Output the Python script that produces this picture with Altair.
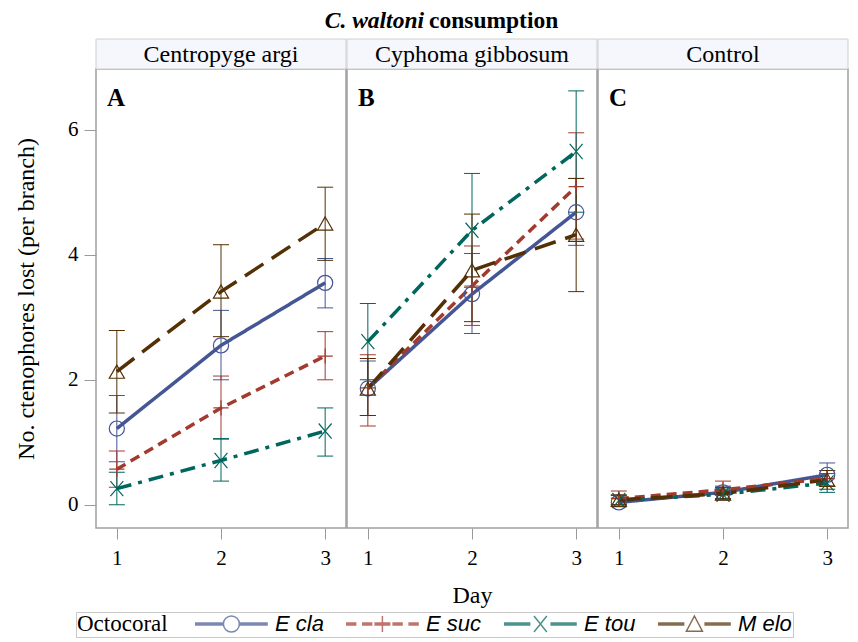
import altair as alt
import pandas as pd

panels = ["Centropyge argi", "Cyphoma gibbosum", "Control"]
letters = ["A", "B", "C"]
series = ["E cla", "E suc", "E tou", "M elo"]
days = [1, 2, 3]
colors = ["#445694", "#A23A2E", "#01665E", "#543005"]
dashes = [[1, 0], [10, 6], [15, 7, 4, 7], [22, 10]]

# means, lower and upper error-bar ends, per panel, per series (days 1..3)
mean_A = {"E cla": [1.22, 2.55, 3.55], "E suc": [0.57, 1.55, 2.38],
          "E tou": [0.26, 0.71, 1.18], "M elo": [2.13, 3.41, 4.50]}
lo_A = {"E cla": [0.69, 2.00, 3.15], "E suc": [0.28, 1.05, 2.00],
        "E tou": [0.00, 0.38, 0.78], "M elo": [1.47, 2.69, 3.91]}
hi_A = {"E cla": [1.75, 3.11, 3.94], "E suc": [0.86, 2.06, 2.77],
        "E tou": [0.52, 1.06, 1.55], "M elo": [2.79, 4.16, 5.08]}

mean_B = {"E cla": [1.86, 3.37, 4.68], "E suc": [1.87, 3.50, 5.09],
          "E tou": [2.61, 4.39, 5.65], "M elo": [1.86, 3.75, 4.32]}
lo_B = {"E cla": [1.43, 2.74, 4.15], "E suc": [1.26, 2.87, 4.25],
        "E tou": [2.00, 3.48, 4.68], "M elo": [1.43, 2.93, 3.41]}
hi_B = {"E cla": [2.30, 4.02, 5.22], "E suc": [2.40, 4.14, 5.95],
        "E tou": [3.22, 5.30, 6.62], "M elo": [2.34, 4.65, 5.22]}

mean_C = {"E cla": [0.04, 0.20, 0.48], "E suc": [0.10, 0.24, 0.42],
          "E tou": [0.07, 0.17, 0.35], "M elo": [0.08, 0.18, 0.40]}
lo_C = {"E cla": [-0.03, 0.10, 0.30], "E suc": [0.00, 0.10, 0.30],
        "E tou": [0.00, 0.08, 0.20], "M elo": [0.00, 0.10, 0.25]}
hi_C = {"E cla": [0.11, 0.30, 0.67], "E suc": [0.22, 0.38, 0.55],
        "E tou": [0.15, 0.27, 0.50], "M elo": [0.16, 0.28, 0.55]}

means = [mean_A, mean_B, mean_C]
los = [lo_A, lo_B, lo_C]
his = [hi_A, hi_B, hi_C]

W, H = 250, 459
SERIF = "Liberation Serif"


# legend symbols: thick line + marker, drawn in unit space (r = 8px)
def hseg(x0, x1):
    return "".join(f"M{x0},{y}L{x1},{y}" for y in (-0.11, 0, 0.11))


MX = 3.55
leg_paths = [
    hseg(-1, 2.55) + hseg(4.55, 8.1)
    + f"M{MX+1},0A1,1 0 1,1 {MX-1},0A1,1 0 1,1 {MX+1},0",
    hseg(-1, 0.3) + hseg(1.0, 2.3) + hseg(2.55, 4.55) + hseg(4.8, 6.1) + hseg(6.8, 8.1)
    + f"M{MX},-1L{MX},1",
    hseg(-1, 2.3) + hseg(4.8, 8.1)
    + f"M{MX-0.8},-1L{MX+0.8},1M{MX-0.8},1L{MX+0.8},-1",
    hseg(-1, 2.3) + hseg(4.8, 8.1)
    + f"M{MX},-1L{MX+1},0.9L{MX-1},0.9Z",
]

marker_shapes = {
    "E cla": "circle",
    "E suc": "M-1,0L1,0M0,-1L0,1",
    "E tou": "M-0.85,-1L0.85,1M-0.85,1L0.85,-1",
    "M elo": "triangle-up",
}

rows = []
for p, mdict, ldict, hdict in zip(panels, means, los, his):
    for s in series:
        for i, d in enumerate(days):
            rows.append({"panel": p, "series": s, "day": d,
                         "mean": mdict[s][i], "lo": ldict[s][i], "hi": hdict[s][i]})
df = pd.DataFrame(rows)

xscale = alt.Scale(domain=[0.8, 3.2], nice=False, zero=False)
yscale = alt.Scale(domain=[-0.37, 6.97], nice=False, zero=False)
cscale = alt.Scale(domain=series, range=colors)


def make_panel(idx):
    p = panels[idx]
    d = df[df["panel"] == p]
    if idx == 0:
        yax = alt.Axis(values=[0, 2, 4, 6], title="No. ctenophores lost (per branch)",
                       tickSize=12, labelPadding=6, titlePadding=29, grid=False,
                       domain=False)
    else:
        yax = None
    xax = alt.Axis(values=days, title="Day" if idx == 1 else None, grid=False,
                   domain=False, tickSize=11, labelPadding=8, titlePadding=15,
                   format="d")
    X = alt.X("day:Q", scale=xscale, axis=xax)
    layers = []
    # header strip
    hdr = pd.DataFrame({"panel": [p], "letter": [letters[idx]]})
    layers.append(alt.Chart(hdr).mark_rect(fill="#f5f7fc", stroke="#cfcfcf", strokeWidth=1).encode(
        x=alt.value(0), x2=alt.value(W), y=alt.value(-30), y2=alt.value(0)))
    layers.append(alt.Chart(hdr).mark_text(font=SERIF, fontSize=24, color="black",
                                           align="center", baseline="middle").encode(
        x=alt.value(W / 2), y=alt.value(-14), text="panel:N"))
    layers.append(alt.Chart(hdr).mark_text(font=SERIF, fontSize=25, fontWeight="bold",
                                           color="black", align="left", baseline="middle").encode(
        x=alt.value(11), y=alt.value(29), text="letter:N"))
    if idx == 1:
        ttl = pd.DataFrame({"a": ["C. waltoni"], "b": ["consumption"]})
        layers.append(alt.Chart(ttl).mark_text(font=SERIF, fontSize=23.5, fontWeight="bold",
                                               fontStyle="italic", color="black",
                                               align="right", baseline="middle").encode(
            x=alt.value(77), y=alt.value(-48), text="a:N"))
        layers.append(alt.Chart(ttl).mark_text(font=SERIF, fontSize=23.5, fontWeight="bold",
                                               color="black", align="left",
                                               baseline="middle").encode(
            x=alt.value(82), y=alt.value(-48), text="b:N"))
    for k, s in enumerate(series):
        ds = alt.Chart(d[d["series"] == s])
        col = colors[k]
        # error bars
        layers.append(ds.mark_rule(strokeWidth=1, color=col).encode(
            x=X, y=alt.Y("lo:Q", scale=yscale, axis=yax), y2="hi:Q"))
        for fld in ["lo", "hi"]:
            layers.append(ds.mark_tick(orient="horizontal", size=16, thickness=1,
                                       color=col, opacity=1).encode(
                x=X, y=alt.Y(f"{fld}:Q", scale=yscale, axis=yax)))
    for k, s in enumerate(series):
        ds = alt.Chart(d[d["series"] == s])
        col = colors[k]
        layers.append(ds.mark_line(strokeWidth=3.5, color=col, strokeDash=dashes[k]).encode(
            x=X, y=alt.Y("mean:Q", scale=yscale, axis=yax)))
    for k, s in enumerate(series):
        ds = alt.Chart(d[d["series"] == s])
        col = colors[k]
        layers.append(ds.mark_point(shape=marker_shapes[s], filled=False, size=230,
                                    strokeWidth=1.2, opacity=1, color=col).encode(
            x=X, y=alt.Y("mean:Q", scale=yscale, axis=yax)))
    if idx == 0:
        leg = alt.Legend(title="Octocoral", orient="none", legendX=-20, legendY=543)
        layers.append(alt.Chart(d).mark_point(size=0, filled=False).encode(
            x=X, y=alt.Y("mean:Q", scale=yscale, axis=yax),
            color=alt.Color("series:N", scale=cscale, legend=leg),
            shape=alt.Shape("series:N", scale=alt.Scale(domain=series, range=leg_paths),
                            legend=leg)))
    return alt.layer(*layers).properties(width=W, height=H)


chart = alt.hconcat(*[make_panel(i) for i in range(3)], spacing=1, bounds="flush").properties(
    padding={"left": 5, "top": 0, "right": 0, "bottom": 0}
).configure_view(
    stroke="#a0a0a0", strokeWidth=1.5
).configure_axis(
    labelFont=SERIF, titleFont=SERIF, labelFontSize=21, titleFontSize=24,
    labelColor="black", titleColor="black", titleFontWeight="normal",
    tickColor="#9a9a9a", tickWidth=1
).configure_legend(
    direction="horizontal", titleOrient="left",
    titleFont=SERIF, titleFontSize=23, titleFontWeight="normal", titleColor="black",
    titlePadding=24, labelFont="Liberation Sans", labelFontStyle="italic",
    labelFontSize=22, labelColor="black", labelOffset=61, columnPadding=19,
    symbolSize=256, symbolStrokeWidth=1.5, strokeColor="#c8c8c8", padding=1
)

chart.save("out.html", embed_options={"renderer": "svg", "actions": False})
